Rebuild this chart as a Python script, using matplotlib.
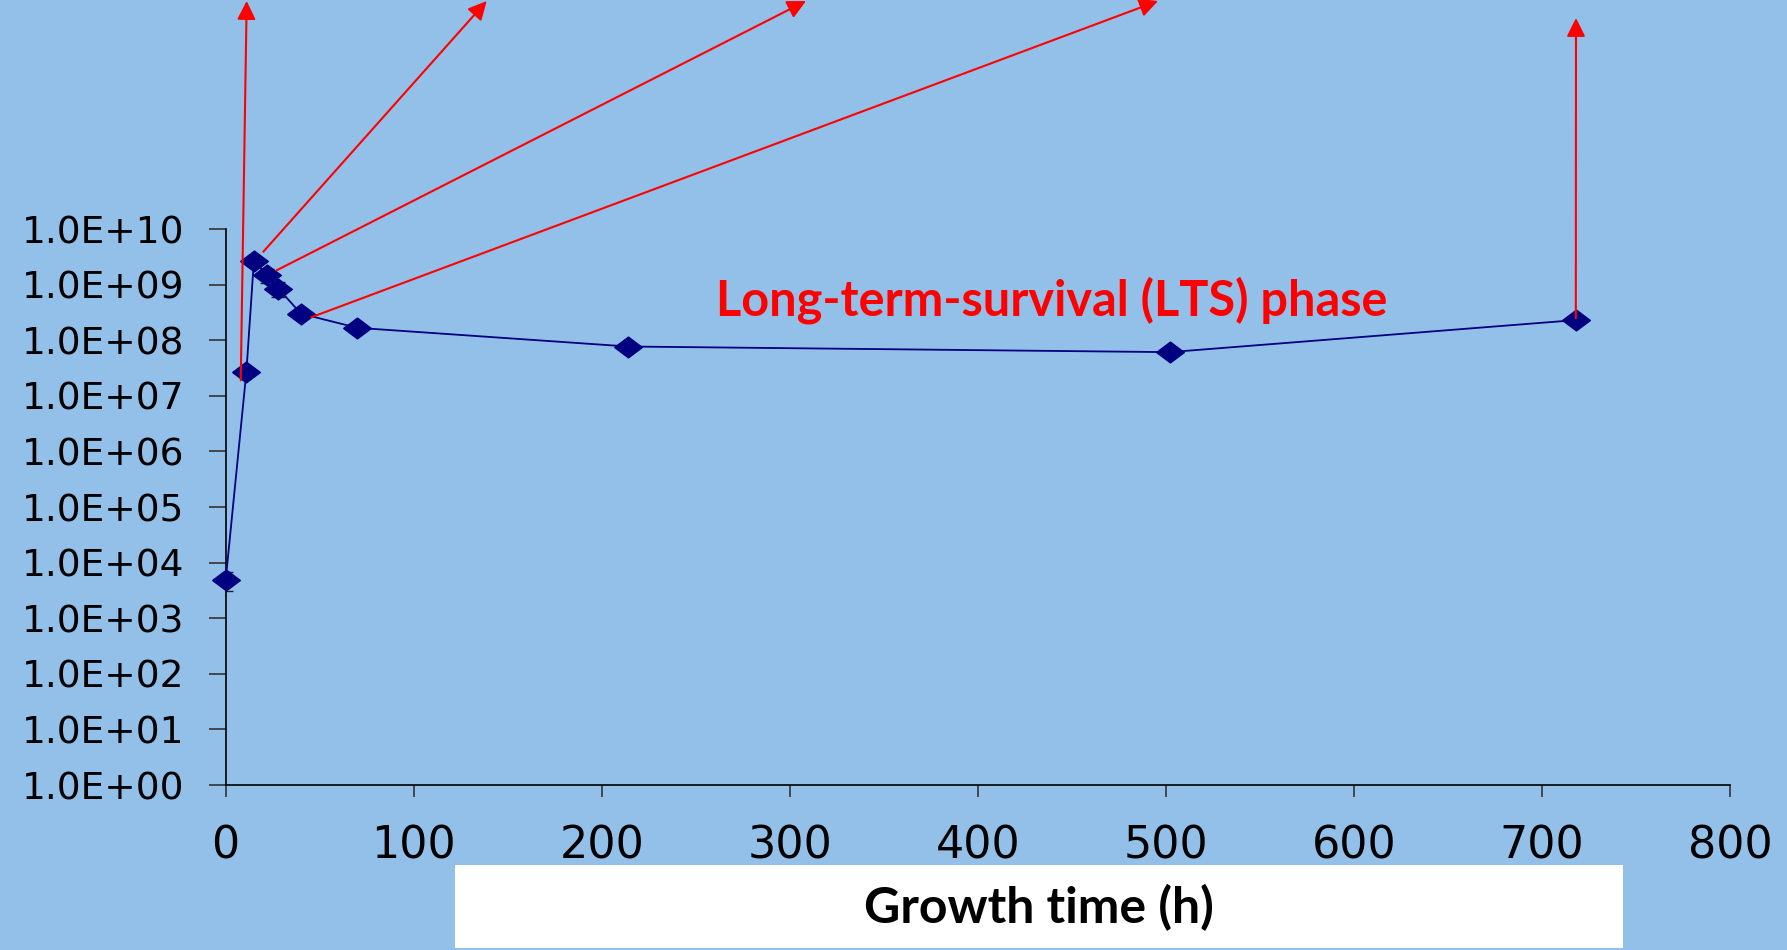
import matplotlib.pyplot as plt
import matplotlib.patches as patches
import numpy as np
from matplotlib.ticker import FixedLocator, FuncFormatter

# growth curve values
time_h = [0, 11, 15, 22, 28, 40, 70, 214, 502, 718]
cfu = [4.9e3, 2.7e7, 2.7e9, 1.5e9, 8.5e8, 3.0e8, 1.67e8, 7.7e7, 6.1e7, 2.3e8]
err = [1.8e3, 0, 0, 4.2e8, 2.5e8, 0, 0, 0, 0, 0]

y_ticks = [10.0 ** k for k in range(0, 11)]
x_ticks = [0, 100, 200, 300, 400, 500, 600, 700, 800]

phase_label = "Long-term-survival (LTS) phase"
x_label = "Growth time (h)"

bg = "#93C0E8"
navy = "#000080"

W, H = 1787, 950
fig = plt.figure(figsize=(W / 100, H / 100), dpi=100, facecolor=bg)
ax = fig.add_axes([225.7 / W, 1 - 785 / H, (1730 - 225.7) / W, (785 - 229) / H])
ax.set_facecolor(bg)

# flattened diamond marker
diamond = [(-1, 0), (0, 0.75), (1, 0), (0, -0.75), (-1, 0)]

ax.errorbar(time_h, cfu, yerr=err, fmt="none", ecolor="#222222", elinewidth=1, capsize=4.7, zorder=2)
ax.plot(time_h, cfu, color=navy, lw=1.3, marker=diamond, markersize=20,
        markerfacecolor=navy, markeredgecolor=navy, zorder=3, clip_on=False)

ax.set_yscale("log")
ax.set_ylim(1, 1e10)
ax.set_xlim(0, 800)
ax.yaxis.set_major_locator(FixedLocator(y_ticks))
ax.yaxis.set_minor_locator(FixedLocator([]))
ax.yaxis.set_major_formatter(FuncFormatter(lambda v, p: f"{v:.1E}"))
ax.set_xticks(x_ticks)

for s in ["top", "right"]:
    ax.spines[s].set_visible(False)
for s in ["left", "bottom"]:
    ax.spines[s].set_color("black")
    ax.spines[s].set_linewidth(1.2)

ax.tick_params(axis="y", length=12, width=1.2, color="#333333", pad=18,
               labelsize=27, labelfontfamily="DejaVu Sans")
ax.tick_params(axis="x", length=8.5, width=1.2, color="#333333", pad=20,
               labelsize=32, labelfontfamily="DejaVu Sans")

# red arrows from the curve out past the top of the figure
arrows = [
    ((8, 1.9e7), (246.7, 1)),
    ((20, 3.9e9), (486.7, 1)),
    ((27, 1.8e9), (806, 1)),
    ((45.7, 2.6e8), (1158, 1)),
    ((718, 2.5e8), (1576, 18)),
]
for start, tip in arrows:
    ax.annotate("", xy=(tip[0] / W, 1 - tip[1] / H), xycoords="figure fraction",
                xytext=start, textcoords="data", annotation_clip=False,
                arrowprops=dict(arrowstyle="-|>", color="red", lw=1.5,
                                mutation_scale=28, shrinkA=0, shrinkB=0))

fig.text(1052 / W, 1 - 316 / H, phase_label, color="red", fontsize=35,
         fontweight="bold", family="Lato", ha="center", va="baseline")

# white box behind the axis title
box = patches.Rectangle((455 / W, 2 / H), (1623 - 455) / W, (950 - 865 - 2) / H,
                        transform=fig.transFigure, facecolor="white", edgecolor="none")
fig.patches.append(box)
fig.text(1039 / W, 1 - 923 / H, x_label, color="black", fontsize=36,
         fontweight="bold", family="Lato", ha="center", va="baseline")

fig.savefig("out.png", dpi=100, facecolor=bg)
